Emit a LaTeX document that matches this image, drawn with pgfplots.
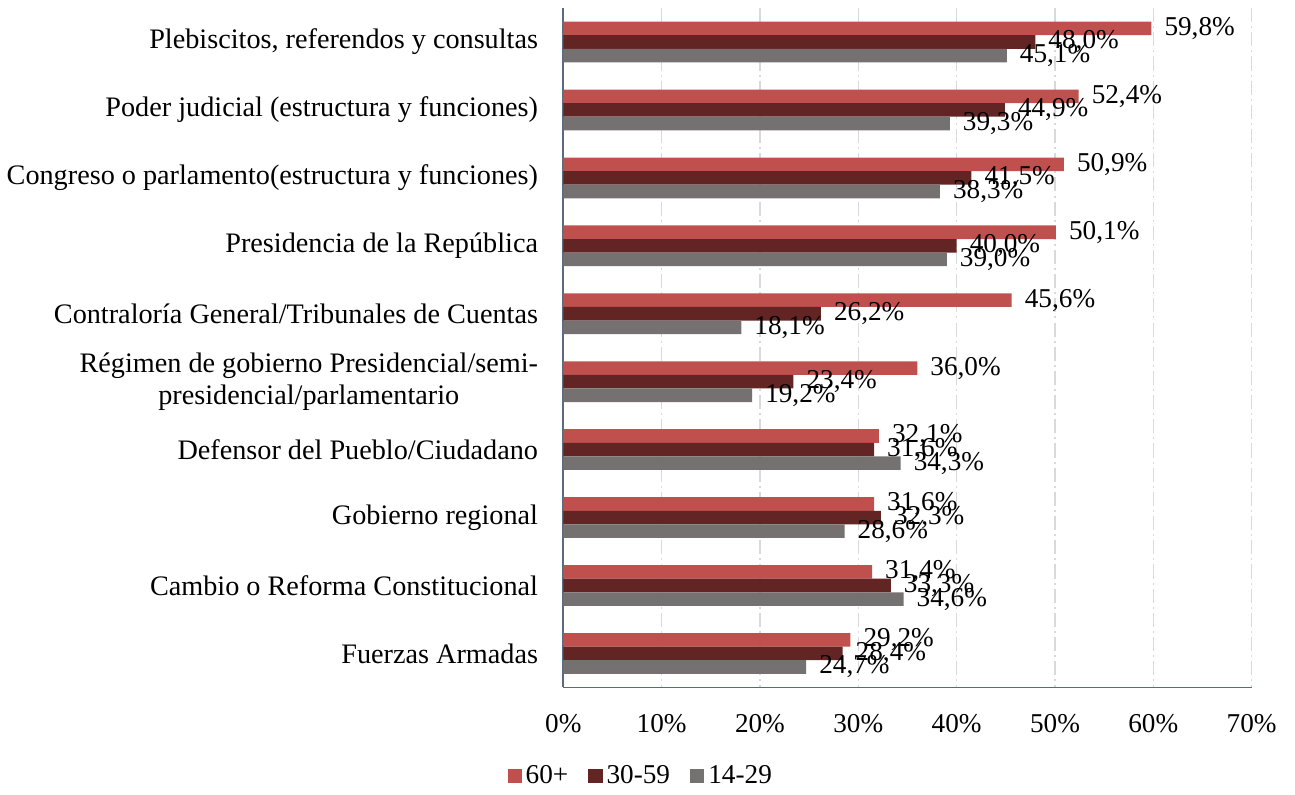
\documentclass[border=0pt]{standalone}
\usepackage{pgfplots}
\pgfplotsset{compat=1.18}
\usepackage{fontspec}
\setmainfont{Liberation Serif}
\definecolor{cOld}{HTML}{C0504D}
\definecolor{cMid}{HTML}{632523}
\definecolor{cYoung}{HTML}{767171}
\definecolor{cAxis}{HTML}{5A6B7E}
\definecolor{cGrid}{HTML}{D9D9D9}
\begin{document}
\begin{tikzpicture}
\begin{axis}[
  scale only axis,
  width=341.5pt, height=337pt,
  xbar, bar width=0.2,
  xmin=0, xmax=70,
  ymin=-0.5, ymax=9.5,
  y dir=reverse,
  axis x line*=bottom, axis y line*=left,
  axis line style={cAxis, line width=0.8pt, -},
  xtick={0,10,...,70},
  xticklabel={\pgfmathprintnumber{\tick}\%},
  xticklabel style={font=\fontsize{13.5}{15}\selectfont, yshift=-10pt},
  /pgf/number format/assume math mode=true,
  ytick={0,...,9},
  yticklabels={
    {Plebiscitos, referendos y consultas},
    {Poder judicial (estructura y funciones)},
    {Congreso o parlamento(estructura y funciones)},
    {Presidencia de la República},
    {Contraloría General/Tribunales de Cuentas},
    {Régimen de gobierno Presidencial/semi-\\presidencial/parlamentario},
    {Defensor del Pueblo/Ciudadano},
    {Gobierno regional},
    {Cambio o Reforma Constitucional},
    {Fuerzas Armadas}},
  yticklabel style={font=\fontsize{14}{15.5}\selectfont, align=center, xshift=-9pt},
  major tick length=0pt,
  xmajorgrids,
  grid style={cGrid, line width=0.8pt, dash pattern=on 7pt off 2pt on 1pt off 2pt},
  point meta=x,
  nodes near coords={\pgfmathprintnumber[fixed,fixed zerofill,precision=1,use comma]{\pgfplotspointmeta}\%},
  nodes near coords style={font=\fontsize{13.5}{15}\selectfont, anchor=west, xshift=3pt, text=black},
  legend style={at={(0.114,-0.13)}, anchor=center, draw=none, legend columns=-1,
    font=\fontsize{13.5}{15}\selectfont, /tikz/every even column/.append style={column sep=8pt}},
  legend image code/.code={\fill[#1] (0pt,-3.5pt) rectangle (7pt,3.5pt);},
  clip=false,
]
\addplot[fill=cOld, draw=none, bar shift=-0.2] coordinates {
  (59.8,0) (52.4,1) (50.9,2) (50.1,3) (45.6,4) (36.0,5) (32.1,6) (31.6,7) (31.4,8) (29.2,9)};
\addplot[fill=cMid, draw=none, bar shift=0] coordinates {
  (48.0,0) (44.9,1) (41.5,2) (40.0,3) (26.2,4) (23.4,5) (31.6,6) (32.3,7) (33.3,8) (28.4,9)};
\addplot[fill=cYoung, draw=none, bar shift=0.2] coordinates {
  (45.1,0) (39.3,1) (38.3,2) (39.0,3) (18.1,4) (19.2,5) (34.3,6) (28.6,7) (34.6,8) (24.7,9)};
\legend{60+, 30-59, 14-29}
\path (rel axis cs:1,1) ++(21.5pt,4pt);
\end{axis}
\end{tikzpicture}
\end{document}
